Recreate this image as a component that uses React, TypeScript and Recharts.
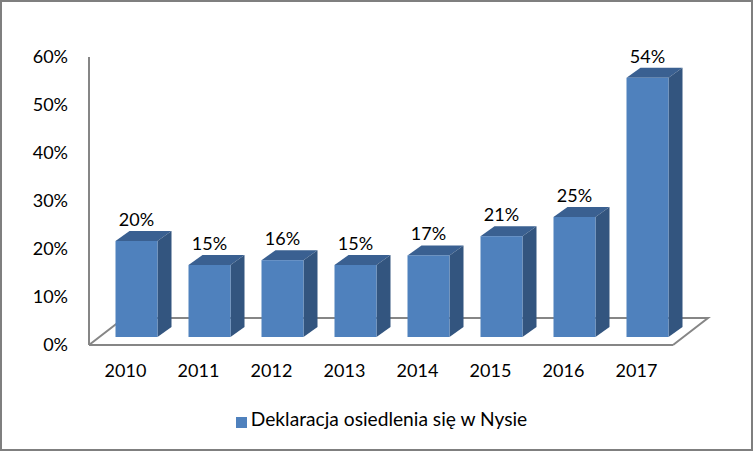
import {
  BarChart,
  Bar,
  XAxis,
  YAxis,
  Legend,
  LabelList,
  usePlotArea,
} from "recharts";

const years = ["2010", "2011", "2012", "2013", "2014", "2015", "2016", "2017"];
const declarations = [20, 15, 16, 15, 17, 21, 25, 54];
const yTicks = [0, 10, 20, 30, 40, 50, 60];

const data = years.map((year, i) => ({ year, value: declarations[i] }));

const FONT = "Lato, 'Noto Sans', sans-serif";
const AXIS = "#868686";
const FRONT = "#4f81bd";
const TOP = "#3a6091";
const SIDE = "#33557f";

// how far the 3D front plane sits from the axis plane
const SHIFT_X = 10.5;
const SHIFT_Y = -8;
const DEPTH_X = 14;
const DEPTH_Y = 10;

function Floor() {
  const plot = usePlotArea();
  if (!plot) return null;
  const left = plot.x;
  const right = plot.x + plot.width;
  const bottom = plot.y + plot.height;
  const back = bottom - 27;
  const d = `M${left} ${bottom} L${left + 35} ${back} L${right + 35} ${back} L${right} ${bottom}`;
  return <path d={d} fill="none" stroke={AXIS} strokeWidth={2} />;
}

function Box3D(props: any) {
  const { x, y, width, height } = props;
  const l = x + SHIFT_X;
  const r = l + width;
  const t = y + SHIFT_Y;
  const b = t + height;
  return (
    <g>
      <polygon
        points={`${l},${t} ${l + DEPTH_X},${t - DEPTH_Y} ${r + DEPTH_X},${t - DEPTH_Y} ${r},${t}`}
        fill={TOP}
      />
      <polygon
        points={`${r},${t} ${r + DEPTH_X},${t - DEPTH_Y} ${r + DEPTH_X},${b - DEPTH_Y} ${r},${b}`}
        fill={SIDE}
      />
      <rect x={l} y={t} width={width} height={height} fill={FRONT} />
    </g>
  );
}

function BarValue(props: any) {
  const { x, y, width, value } = props;
  return (
    <text
      x={x + width / 2 + SHIFT_X}
      y={y + SHIFT_Y - 15}
      textAnchor="middle"
      fontFamily={FONT}
      fontSize={18}
      fill="#000"
    >
      {value}%
    </text>
  );
}

export default function App() {
  return (
    <div
      style={{
        position: "fixed",
        left: 0,
        top: 0,
        width: 753,
        height: 451,
        background: "#fff",
        boxShadow: "inset 0 0 0 2px #7f7f7f",
      }}
    >
      <BarChart
        width={753}
        height={451}
        data={data}
        barSize={42}
        margin={{ top: 57, right: 80, bottom: 15, left: 0 }}
      >
        <Floor />
        <XAxis
          dataKey="year"
          height={61}
          tickLine={false}
          tickMargin={13}
          axisLine={{ stroke: AXIS, strokeWidth: 2 }}
          tick={{ fill: "#000", fontSize: 18, fontFamily: FONT }}
        />
        <YAxis
          width={89}
          domain={[0, 60]}
          ticks={yTicks}
          tickFormatter={(v) => `${v}%`}
          tickLine={false}
          tickMargin={15}
          axisLine={{ stroke: AXIS, strokeWidth: 2 }}
          tick={{ fill: "#000", fontSize: 18, fontFamily: FONT }}
        />
        <Legend
          height={30}
          iconType="square"
          iconSize={11}
          wrapperStyle={{ left: 50, bottom: 14 }}
          formatter={(v) => (
            <span style={{ color: "#000", fontSize: 19.2, fontFamily: FONT }}>{v}</span>
          )}
        />
        <Bar
          dataKey="value"
          name="Deklaracja osiedlenia się w Nysie"
          fill={FRONT}
          shape={Box3D}
          isAnimationActive={false}
        >
          <LabelList dataKey="value" content={BarValue} />
        </Bar>
      </BarChart>
    </div>
  );
}
